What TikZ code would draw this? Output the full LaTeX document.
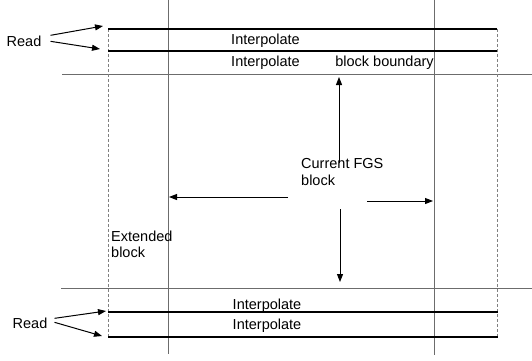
\documentclass[tikz,border=0pt]{standalone}
\usepackage{fontspec}
\setmainfont{Liberation Sans}
\usetikzlibrary{arrows.meta,positioning,calc}

\begin{document}
\begin{tikzpicture}[x=1pt, y=-1pt,
  grid/.style={gray!85!black, line width=1pt},
  bar/.style={line width=2.6pt},
  ext/.style={gray, densely dashed, line width=0.6pt},
  arr/.style={-{Triangle[length=8pt,width=6pt]}, line width=1pt},
  txt/.style={font=\fontsize{14.5}{16}\selectfont, inner sep=0pt, anchor=base}]
  \useasboundingbox (0,0) rectangle (532,360);

  % block grid
  \draw[grid] (168,0) -- (168,354);
  \draw[grid] (434,0) -- (434,355);
  \draw[grid] (62,74) -- (532,74);
  \draw[grid] (61,288) -- (532,288);

  % extended block
  \draw[ext] (108,29) -- (108,337);
  \draw[ext] (497,29) -- (497,337);

  % rows that are read
  \coordinate (t1) at (108,29);
  \coordinate (t2) at (108,51);
  \coordinate (b1) at (108,312);
  \coordinate (b2) at (108,337);
  \draw[bar] (t1) -- (497,29);
  \draw[bar] (t2) -- (497,51);
  \draw[bar] (b1) -- (498,312);
  \draw[bar] (b2) -- (498,337);

  \node[txt] (readtop) at (24,46.5) {Read};
  \node[txt] (readbot) at (30,328.5) {Read};
  \draw[arr] ($(readtop.east)+(9,-6)$) -- ($(t1)+(-5,-3)$);
  \draw[arr] ($(readtop.east)+(9,0)$) -- ($(t2)+(-8,-2)$);
  \draw[arr] ($(readbot.east)+(7,-5)$) -- ($(b1)+(-2,-1)$);
  \draw[arr] ($(readbot.east)+(7,-1)$) -- ($(b2)+(-6,-1)$);

  \node[txt] (ip1) at (265.5,44) {Interpolate};
  \node[txt] (ip2) at (265.5,66.5) {Interpolate};
  \node[txt] (ip3) at (267,309) {Interpolate};
  \node[txt] (ip4) at (267,329.5) {Interpolate};
  \node[txt] (bound) at (384.5,66.5) {block boundary};

  \node[txt, anchor=base west, align=left] (ext) at (111,257.5)
    {Extended\\block};

  % current block and its extent
  \node[txt, anchor=base west, align=left, font=\fontsize{14.5}{17}\selectfont]
    (fgs) at (301,185.5) {Current FGS\\block};
  \coordinate (up) at (339,77);
  \coordinate (down) at (340,282);
  \coordinate (left) at (169,197);
  \coordinate (right) at (433,201);
  \draw[arr] (339,163) -- (up);
  \draw[arr] (340,209) -- (down);
  \draw[arr] (288,197) -- (left);
  \draw[arr] (367,201) -- (right);
\end{tikzpicture}
\end{document}
